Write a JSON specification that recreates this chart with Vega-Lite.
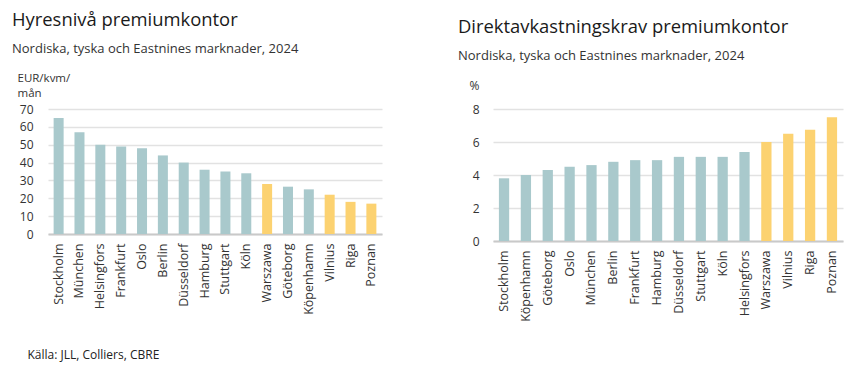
{
  "$schema": "https://vega.github.io/schema/vega-lite/v6.json",
  "background": "white",
  "padding": {"left": 12, "top": 10, "right": 9, "bottom": 5},
  "bounds": "flush",
  "spacing": 111,
  "config": {
    "font": "Open Sans",
    "view": {"stroke": null},
    "axis": {"labelFont": "Open Sans", "titleFont": "Open Sans", "labelColor": "#333333", "titleColor": "#333333", "labelFontSize": 12, "titleFontWeight": "normal", "ticks": false},
    "title": {"font": "Open Sans", "fontSize": 18.4, "fontWeight": "normal", "color": "#1a1a1a", "subtitleFont": "Open Sans", "subtitleFontSize": 13, "subtitleColor": "#333333", "anchor": "start", "frame": "group"}
  },
  "hconcat": [
    {
      "width": 334,
      "height": 125,
      "title": {"text": "Hyresnivå premiumkontor", "subtitle": "Nordiska, tyska och Eastnines marknader, 2024", "dx": -36, "offset": 16, "subtitlePadding": 14},
      "data": {"values": [
        {"stad": "Stockholm", "varde": 65, "grupp": "Norden/Tyskland"},
        {"stad": "München", "varde": 57, "grupp": "Norden/Tyskland"},
        {"stad": "Helsingfors", "varde": 50, "grupp": "Norden/Tyskland"},
        {"stad": "Frankfurt", "varde": 49, "grupp": "Norden/Tyskland"},
        {"stad": "Oslo", "varde": 48, "grupp": "Norden/Tyskland"},
        {"stad": "Berlin", "varde": 44, "grupp": "Norden/Tyskland"},
        {"stad": "Düsseldorf", "varde": 40, "grupp": "Norden/Tyskland"},
        {"stad": "Hamburg", "varde": 36, "grupp": "Norden/Tyskland"},
        {"stad": "Stuttgart", "varde": 35, "grupp": "Norden/Tyskland"},
        {"stad": "Köln", "varde": 34, "grupp": "Norden/Tyskland"},
        {"stad": "Warszawa", "varde": 28, "grupp": "Eastnine"},
        {"stad": "Göteborg", "varde": 26.5, "grupp": "Norden/Tyskland"},
        {"stad": "Köpenhamn", "varde": 25, "grupp": "Norden/Tyskland"},
        {"stad": "Vilnius", "varde": 22, "grupp": "Eastnine"},
        {"stad": "Riga", "varde": 18, "grupp": "Eastnine"},
        {"stad": "Poznan", "varde": 17, "grupp": "Eastnine"}
      ]},
      "mark": {"type": "bar"},
      "encoding": {
        "x": {"field": "stad", "type": "nominal", "sort": null,
          "scale": {"paddingInner": 0.52, "paddingOuter": 0.27},
          "axis": {"labelAngle": -90, "labelPadding": 9, "labelFontSize": 12.5, "domainColor": "#c9c9c9", "domainWidth": 2,
            "title": "Källa: JLL, Colliers, CBRE", "titleX": -21, "titleY": 124, "titleAlign": "left", "titleBaseline": "alphabetic", "titleFontSize": 12, "titleColor": "#222222"}},
        "y": {"field": "varde", "type": "quantitative", "scale": {"domain": [0, 70]},
          "axis": {"values": [0, 10, 20, 30, 40, 50, 60, 70], "domain": false, "gridColor": "#e2e2e2", "gridWidth": 1.5, "labelPadding": 15,
            "title": ["EUR/kvm/", "mån"], "titleAngle": 0, "titleAlign": "left", "titleBaseline": "alphabetic", "titleX": -31, "titleY": -28, "titleLineHeight": 15, "titleFontSize": 11.5}},
        "color": {"field": "grupp", "type": "nominal", "scale": {"domain": ["Norden/Tyskland", "Eastnine"], "range": ["#a9c9cc", "#fcd271"]}, "legend": null}
      }
    },
    {
      "width": 350,
      "height": 132,
      "title": {"text": "Direktavkastningskrav premiumkontor", "subtitle": "Nordiska, tyska och Eastnines marknader, 2024", "dx": -35, "offset": 16, "subtitlePadding": 14},
      "data": {"values": [
        {"stad": "Stockholm", "varde": 3.8, "grupp": "Norden/Tyskland"},
        {"stad": "Köpenhamn", "varde": 4.0, "grupp": "Norden/Tyskland"},
        {"stad": "Göteborg", "varde": 4.3, "grupp": "Norden/Tyskland"},
        {"stad": "Oslo", "varde": 4.5, "grupp": "Norden/Tyskland"},
        {"stad": "München", "varde": 4.6, "grupp": "Norden/Tyskland"},
        {"stad": "Berlin", "varde": 4.8, "grupp": "Norden/Tyskland"},
        {"stad": "Frankfurt", "varde": 4.9, "grupp": "Norden/Tyskland"},
        {"stad": "Hamburg", "varde": 4.9, "grupp": "Norden/Tyskland"},
        {"stad": "Düsseldorf", "varde": 5.1, "grupp": "Norden/Tyskland"},
        {"stad": "Stuttgart", "varde": 5.1, "grupp": "Norden/Tyskland"},
        {"stad": "Köln", "varde": 5.1, "grupp": "Norden/Tyskland"},
        {"stad": "Helsingfors", "varde": 5.4, "grupp": "Norden/Tyskland"},
        {"stad": "Warszawa", "varde": 6.0, "grupp": "Eastnine"},
        {"stad": "Vilnius", "varde": 6.5, "grupp": "Eastnine"},
        {"stad": "Riga", "varde": 6.75, "grupp": "Eastnine"},
        {"stad": "Poznan", "varde": 7.5, "grupp": "Eastnine"}
      ]},
      "mark": {"type": "bar"},
      "encoding": {
        "x": {"field": "stad", "type": "nominal", "sort": null,
          "scale": {"paddingInner": 0.53, "paddingOuter": 0.27},
          "axis": {"labelAngle": -90, "labelPadding": 9, "labelFontSize": 12.5, "domainColor": "#c9c9c9", "domainWidth": 2, "title": null}},
        "y": {"field": "varde", "type": "quantitative", "scale": {"domain": [0, 8]},
          "axis": {"values": [0, 2, 4, 6, 8], "domain": false, "gridColor": "#e2e2e2", "gridWidth": 1.5, "labelPadding": 14,
            "title": "%", "titleAngle": 0, "titleAlign": "left", "titleBaseline": "alphabetic", "titleX": -24, "titleY": -20, "titleFontSize": 12}},
        "color": {"field": "grupp", "type": "nominal", "scale": {"domain": ["Norden/Tyskland", "Eastnine"], "range": ["#a9c9cc", "#fcd271"]}, "legend": null}
      }
    }
  ]
}
